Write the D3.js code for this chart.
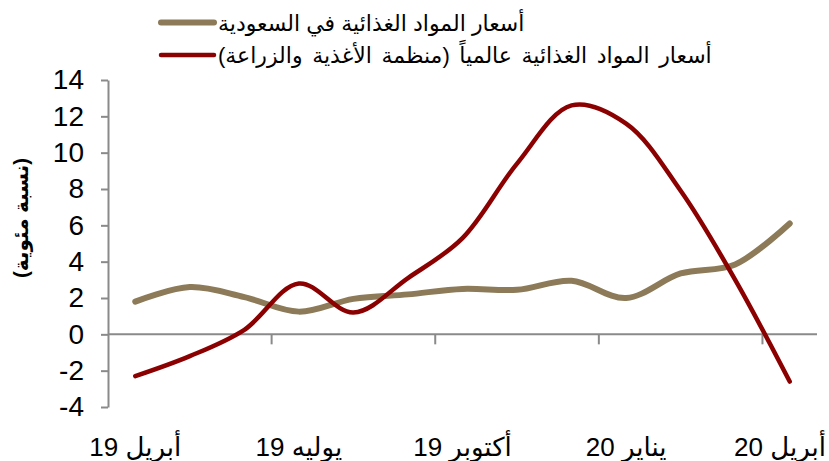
<!DOCTYPE html>
<html>
<head>
<meta charset="utf-8">
<script src="https://cdn.jsdelivr.net/npm/d3@7"></script>
<style>
  html, body { margin: 0; padding: 0; background: #fff; }
  svg { display: block; }
  text { font-family: "Liberation Sans", Arial, "DejaVu Sans", sans-serif; fill: #000; }
</style>
</head>
<body>
<svg id="chart" width="829" height="461"></svg>
<script>
// ---- data ----
const months = ["أبريل 19","مايو 19","يونيو 19","يوليه 19","أغسطس 19","سبتمبر 19","أكتوبر 19","نوفمبر 19","ديسمبر 19","يناير 20","فبراير 20","مارس 20","أبريل 20"];
const tickLabelIdx = [0, 3, 6, 9, 12];
const saudiFood = [1.8, 2.6, 2.05, 1.25, 1.95, 2.2, 2.5, 2.45, 2.95, 2.0, 3.35, 3.85, 6.1];
const worldFood = [-2.3, -1.2, 0.25, 2.8, 1.2, 3.1, 5.3, 9.4, 12.6, 11.6, 7.9, 3.0, -2.6];
const yTicks = [-4, -2, 0, 2, 4, 6, 8, 10, 12, 14];
const seriesNames = ["أسعار المواد الغذائية في السعودية", "أسعار المواد الغذائية عالمياً (منظمة الأغذية والزراعة)"];
const seriesColors = ["#8c7a58", "#8b0000"];
const yTitle = "(نسبة مئوية)";

// ---- layout ----
const svg = d3.select("#chart");
const plotLeft = 108, plotRight = 817, plotTop = 80, plotBottom = 407;
const axisColor = "#8a8a8a";

const x = d3.scaleBand().domain(d3.range(months.length)).range([plotLeft, plotRight]).paddingInner(0).paddingOuter(0);
const bw = x.bandwidth();
const cx = i => x(i) + bw / 2;
const y = d3.scaleLinear().domain([-4, 14]).range([plotBottom, plotTop]);

// y axis
const yAxis = d3.axisLeft(y).tickValues(yTicks).tickSize(7).tickSizeOuter(0).tickPadding(17).tickFormat(d => String(d));
const gy = svg.append("g").attr("transform", `translate(${plotLeft},0)`).call(yAxis);
gy.select(".domain").attr("stroke", axisColor).attr("stroke-width", 2);
gy.selectAll(".tick line").attr("stroke", axisColor).attr("stroke-width", 2);
gy.selectAll(".tick text").style("font-size", "28px").style("font-family", "'Liberation Sans', Arial, sans-serif").attr("fill", "#000");

// x axis at y=0
const gx = svg.append("g").attr("transform", `translate(0,${y(0)})`);
gx.append("line").attr("x1", plotLeft).attr("x2", plotRight).attr("y1", 0).attr("y2", 0)
  .attr("stroke", axisColor).attr("stroke-width", 2);
gx.selectAll("line.tk").data([3, 6, 9, 12]).enter().append("line").attr("class", "tk")
  .attr("x1", d => x(d)).attr("x2", d => x(d)).attr("y1", 0).attr("y2", 10)
  .attr("stroke", axisColor).attr("stroke-width", 2);

// x tick labels
const xl = svg.append("g").selectAll("text").data(tickLabelIdx).enter().append("text")
  .attr("x", d => cx(d)).attr("y", 456)
  .attr("text-anchor", "middle")
  .attr("direction", "rtl")
  .style("font-size", "26px")
  .text(d => months[d]);
// keep labels inside the picture
xl.each(function() {
  const b = this.getBBox();
  const sel = d3.select(this);
  if (b.x + b.width > 826) sel.attr("x", +sel.attr("x") - (b.x + b.width - 826));
  if (b.x < 2) sel.attr("x", +sel.attr("x") + (2 - b.x));
});

// lines
const line = d3.line().x((d, i) => cx(i)).y(d => y(d)).curve(d3.curveCatmullRom.alpha(0.5));
svg.append("path").datum(saudiFood).attr("d", line).attr("fill", "none")
  .attr("stroke", seriesColors[0]).attr("stroke-width", 6).attr("stroke-linecap", "round");
svg.append("path").datum(worldFood).attr("d", line).attr("fill", "none")
  .attr("stroke", seriesColors[1]).attr("stroke-width", 4.5).attr("stroke-linecap", "round");

// legend
const legY = [22.5, 55];
const lg = svg.append("g");
seriesNames.forEach((name, i) => {
  lg.append("line").attr("x1", 161).attr("x2", 214).attr("y1", legY[i]).attr("y2", legY[i])
    .attr("stroke", seriesColors[i]).attr("stroke-width", i === 0 ? 6 : 4.5).attr("stroke-linecap", "round");
  lg.append("text").attr("x", 218).attr("y", legY[i] + 8)
    .attr("direction", "rtl").attr("text-anchor", "end")
    .style("font-size", "22px")
    .style("word-spacing", i === 1 ? "3.5px" : "0px")
    .text(name);
});

// y title
svg.append("text")
  .attr("transform", `translate(28,218) rotate(-90)`)
  .attr("text-anchor", "middle")
  .attr("direction", "rtl")
  .style("font-size", "20px").style("font-weight", "bold")
  .text(yTitle);
</script>
</body>
</html>
